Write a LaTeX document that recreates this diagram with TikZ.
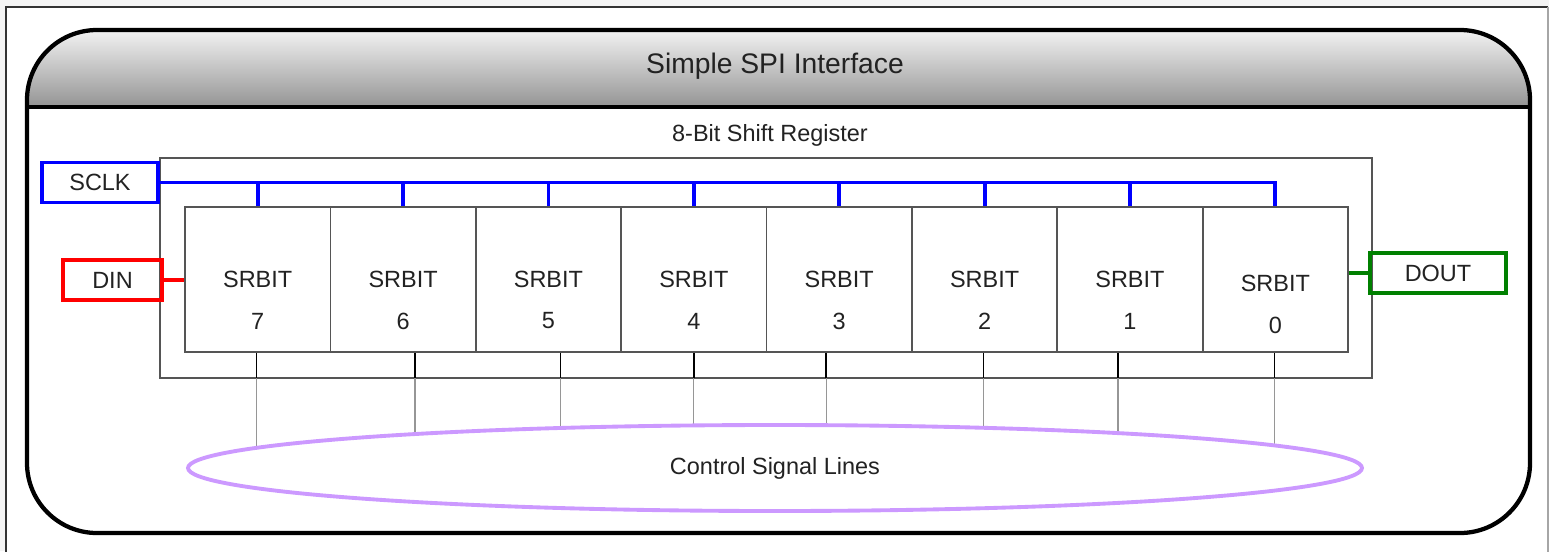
\documentclass[tikz,border=0pt]{standalone}
\usepackage{fontspec}
\setmainfont{Liberation Sans}
\usetikzlibrary{shapes.geometric}
\definecolor{sclkblue}{RGB}{0,0,255}
\definecolor{dinred}{RGB}{255,0,0}
\definecolor{doutgreen}{RGB}{0,128,0}
\definecolor{ctrlviolet}{RGB}{204,153,255}
\definecolor{txtgray}{RGB}{34,34,34}
\definecolor{cellgray}{RGB}{85,85,85}
\definecolor{bggray}{RGB}{244,244,244}
\tikzset{every picture/.style={line width=0.75pt}}
\tikzset{
	lbl/.style={text=txtgray, inner sep=0pt, font=\fontsize{17.6}{21}\selectfont},
	srbit/.style={draw=cellgray, line width=1.3pt, minimum width=109.03pt, minimum height=108.75pt, inner sep=0pt},
	pinbox/.style={lbl, line width=2.9pt, minimum height=30pt},
	sclkline/.style={draw=sclkblue, line width=2.9pt},
	ctrlblack/.style={draw=black, line width=1.2pt},
	ctrlgray/.style={draw={rgb, 255:red, 150; green, 150; blue, 150}, line width=1pt},
	ctrlsig/.style={lbl, ellipse, draw=ctrlviolet, line width=2.9pt, minimum width=880.5pt, minimum height=64.5pt}}

\begin{document}
\begin{tikzpicture}[x=0.75pt,y=0.75pt,yscale=-1,xscale=1]
	\useasboundingbox (0,0) rectangle (1549,551);

	%Shape: Background
	\fill[bggray] (0,0) rectangle (1549,551);
	\fill[white] (6,7) rectangle (1548,560);
	\draw[black!80, line width=1.1pt] (6,560) -- (6,7) -- (1548,7);
	\draw[black!35, line width=1.1pt] (1548,7) -- (1548,560);

	%Shape: Rounded Rectangle with shaded header
	\begin{scope}
		\clip[rounded corners=52.5pt] (27,30) rectangle (1530,533);
		\shade[top color={rgb, 255:red, 242; green, 242; blue, 242}, bottom color={rgb, 255:red, 148; green, 148; blue, 148}] (27,30) rectangle (1530,107);
	\end{scope}
	\draw[line width=3.2pt, rounded corners=52.5pt] (27,30) rectangle (1530,533);
	\draw[line width=2.6pt] (27,107) -- (1530,107);

	% Text Node
	\node[lbl, font=\fontsize{21.2}{25}\selectfont] (title) at (775,66) {Simple SPI Interface};
	% Text Node
	\node[lbl] (regtitle) at (770,135) {8-Bit Shift Register};

	%Shape: Rectangle
	\draw[draw=cellgray, line width=1.3pt] (160,158) rectangle (1372,378);

	%Shift register bits
	\foreach \k/\n/\dy/\dx in {0/7/0/-1, 1/6/0/12, 2/5/0/12, 3/4/0/0, 4/3/0/-13, 5/2/0/-1, 6/1/0/-12, 7/0/4/-1} {
		\pgfmathsetmacro\cx{257.69+145.375*\k}
		\pgfmathsetmacro\lx{\cx+\dx}
		\pgfmathsetmacro\ey{468-43*sqrt(1-((\lx-775)/587)^2)}
		\node[srbit] (b\n) at (\cx,279.5) {};
		\node[lbl] (t\n) at (\cx,279+\dy) {SRBIT};
		\node[lbl] (n\n) at (\cx,321+\dy) {\n};
		\coordinate (r\n) at (\lx,378);
		\coordinate (c\n) at (\lx,\ey);
		\draw[ctrlblack] ([xshift=\dx*0.75pt]b\n.south) -- (r\n);
		\draw[ctrlgray] (r\n) -- (c\n);
	}

	%Pins
	\node[pinbox, draw=sclkblue, minimum width=87pt] (sclk) at (100,182.5) {SCLK};
	\node[pinbox, draw=dinred, minimum width=74.25pt] (din) at (112.5,280) {DIN};
	\node[pinbox, draw=doutgreen, minimum width=102pt] (dout) at (1438,273) {DOUT};

	%Straight Lines
	\draw[sclkline] (sclk.east) -| (b0.north);
	\foreach \n in {7,...,1}
		\draw[sclkline] (b\n.north) -- (b\n.north |- sclk.east);
	\draw[draw=dinred, line width=2.9pt] (din.east) -- (din.east -| b7.west);
	\draw[draw=doutgreen, line width=2.9pt] (b0.east |- dout.west) -- (dout.west);

	%Shape: Ellipse
	\node[ctrlsig] (ctrl) at (775,468) {Control Signal Lines};

\end{tikzpicture}
\end{document}
